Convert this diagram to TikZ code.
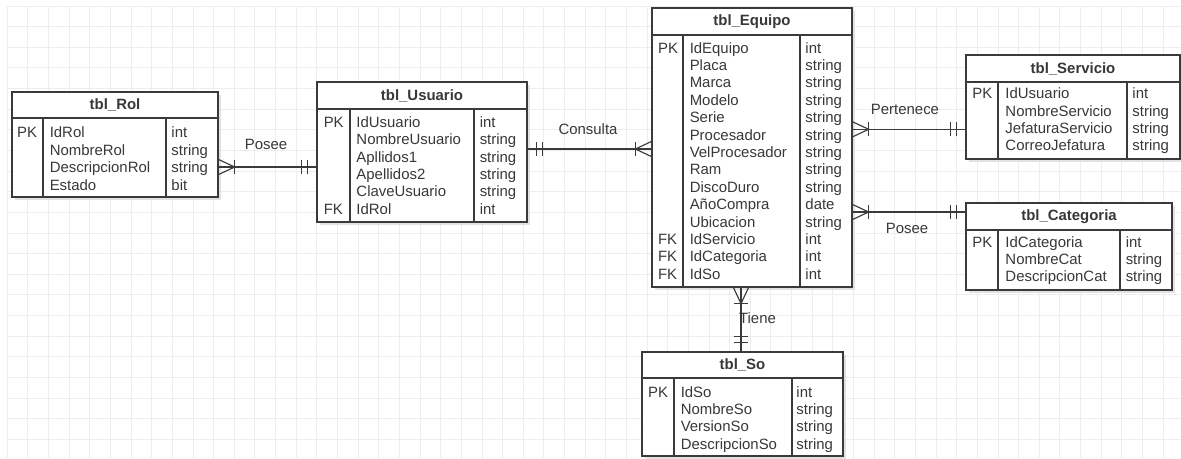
\documentclass[tikz,border=0pt]{standalone}
\usepackage{fontspec}
\setmainfont{Liberation Sans}
\usetikzlibrary{fit}
\definecolor{gridc}{HTML}{EDEDED}
\definecolor{linec}{HTML}{3A3A3A}
\definecolor{txtc}{HTML}{383838}
\definecolor{shadc}{HTML}{E2E2E2}
\tikzset{
 tbox/.style={draw=linec, line width=0.95pt, fill=white, inner sep=0pt},
 inner/.style={draw=linec, line width=0.95pt},
 cell/.style={anchor=base west, inner sep=0pt, text=txtc, font=\fontsize{11.2}{13}\selectfont},
 ttl/.style={inner sep=0pt, text=txtc, font=\fontsize{11.2}{13}\selectfont\bfseries},
 lbl/.style={inner sep=0pt, text=txtc, font=\fontsize{11.2}{13}\selectfont},
 conn/.style={draw=linec, line width=0.85pt},
 crow/.pic={\draw[conn] (0,-7.5) -- (16,0) -- (0,7.5); \draw[conn] (16,-7) -- (16,7);},
 mone/.pic={\draw[conn] (9,-7) -- (9,7); \draw[conn] (15,-7) -- (15,7);},
}
% #1 name, #2 left, #3 top, #4 right, #5 header bottom, #6 bottom, #7 pk divider, #8 type divider, #9 title
\newcommand{\ertable}[9]{%
  \fill[shadc] ({#2+3},{#3+3}) rectangle ({#4+3},{#6+3});
  \node[tbox, fit={(#2,#3) (#4,#6)}] (#1) {};
  \draw[inner] (#2,#5) -- (#4,#5);
  \draw[inner] (#7,#5) -- (#7,#6);
  \draw[inner] (#8,#5) -- (#8,#6);
  \node[ttl] (#1-title) at ({(#2+#4)/2},{(#3+#5)/2}) {#9};
}
% #1 name, #2 key x, #3 name x, #4 type x, #5 first baseline, #6 rows
\newcommand{\errows}[6]{%
  \foreach \k/\n/\t [count=\i from 0] in {#6} {
    \node[cell] (#1-k\i) at (#2,{#5+17.4*\i}) {\k};
    \node[cell] (#1-n\i) at (#3,{#5+17.4*\i}) {\n};
    \node[cell] (#1-t\i) at (#4,{#5+17.4*\i}) {\t};
  }%
}
\begin{document}
\begin{tikzpicture}[x=0.75pt,y=-0.75pt]
\useasboundingbox (0,0) rectangle (1181,458);
\fill[white] (0,0) rectangle (1181,458);
% grid
\foreach \gx in {0,...,56} {\draw[gridc, line width=0.75pt] ({7.3+20.64*\gx},6) -- ({7.3+20.64*\gx},458);}
\foreach \gy in {0,...,21} {\draw[gridc, line width=0.75pt] (7.3,{6+20.64*\gy}) -- (1181,{6+20.64*\gy});}

% tables
\ertable{rol}{12}{92}{218}{118}{197}{43}{166}{tbl\_Rol}
\errows{rol}{16.8}{49.5}{171.2}{137.8}{PK/IdRol/int, {}/NombreRol/string, {}/DescripcionRol/string, {}/Estado/bit}

\ertable{usu}{317}{82}{527}{109}{222}{350}{474}{tbl\_Usuario}
\errows{usu}{323.5}{356.2}{479.5}{127.3}{PK/IdUsuario/int, {}/NombreUsuario/string, {}/Apllidos1/string, {}/Apellidos2/string, {}/ClaveUsuario/string, FK/IdRol/int}

\ertable{equ}{652}{8}{852}{35}{287}{683}{800}{tbl\_Equipo}
\errows{equ}{657.8}{689.5}{805.2}{53}{PK/IdEquipo/int, {}/Placa/string, {}/Marca/string, {}/Modelo/string, {}/Serie/string, {}/Procesador/string, {}/VelProcesador/string, {}/Ram/string, {}/DiscoDuro/string, {}/AñoCompra/date, {}/Ubicacion/string, FK/IdServicio/int, FK/IdCategoria/int, FK/IdSo/int}

\ertable{ser}{966}{55}{1180}{82}{159}{998}{1127}{tbl\_Servicio}
\errows{ser}{972.2}{1005.2}{1132.2}{98.6}{PK/IdUsuario/int, {}/NombreServicio/string, {}/JefaturaServicio/string, {}/CorreoJefatura/string}

\ertable{cat}{966}{203}{1172}{230}{290}{998}{1120}{tbl\_Categoria}
\errows{cat}{972.2}{1005.2}{1125.5}{247}{PK/IdCategoria/int, {}/NombreCat/string, {}/DescripcionCat/string}

\ertable{so}{642}{352}{843}{378}{456}{674}{792}{tbl\_So}
\errows{so}{647.8}{680.5}{796.2}{397}{PK/IdSo/int, {}/NombreSo/string, {}/VersionSo/string, {}/DescripcionSo/string}

% connectors
\coordinate (y1) at (0,167);
\coordinate (y2) at (0,149);
\coordinate (y3) at (0,129.3);
\coordinate (y4) at (0,212);
\coordinate (x5) at (741,0);

\draw[conn] (rol.east |- y1) -- (usu.west |- y1);
\pic at (rol.east |- y1) {crow};
\pic[rotate=180] at (usu.west |- y1) {mone};
\node[lbl] (l1) at (266,144) {Posee};

\draw[conn] (usu.east |- y2) -- (equ.west |- y2);
\pic at (usu.east |- y2) {mone};
\pic[rotate=180] at (equ.west |- y2) {crow};
\node[lbl] (l2) at (588,129) {Consulta};

\draw[conn] (equ.east |- y3) -- (ser.west |- y3);
\pic at (equ.east |- y3) {crow};
\pic[rotate=180] at (ser.west |- y3) {mone};
\node[lbl] (l3) at (905,109) {Pertenece};

\draw[conn] (equ.east |- y4) -- (cat.west |- y4);
\pic at (equ.east |- y4) {crow};
\pic[rotate=180] at (cat.west |- y4) {mone};
\node[lbl] (l4) at (907,228) {Posee};

\draw[conn] (equ.south -| x5) -- (so.north -| x5);
\pic[rotate=-90] at (equ.south -| x5) {crow};
\pic[rotate=90] at (so.north -| x5) {mone};
\node[lbl] (l5) at (757.5,318) {Tiene};
\end{tikzpicture}
\end{document}
